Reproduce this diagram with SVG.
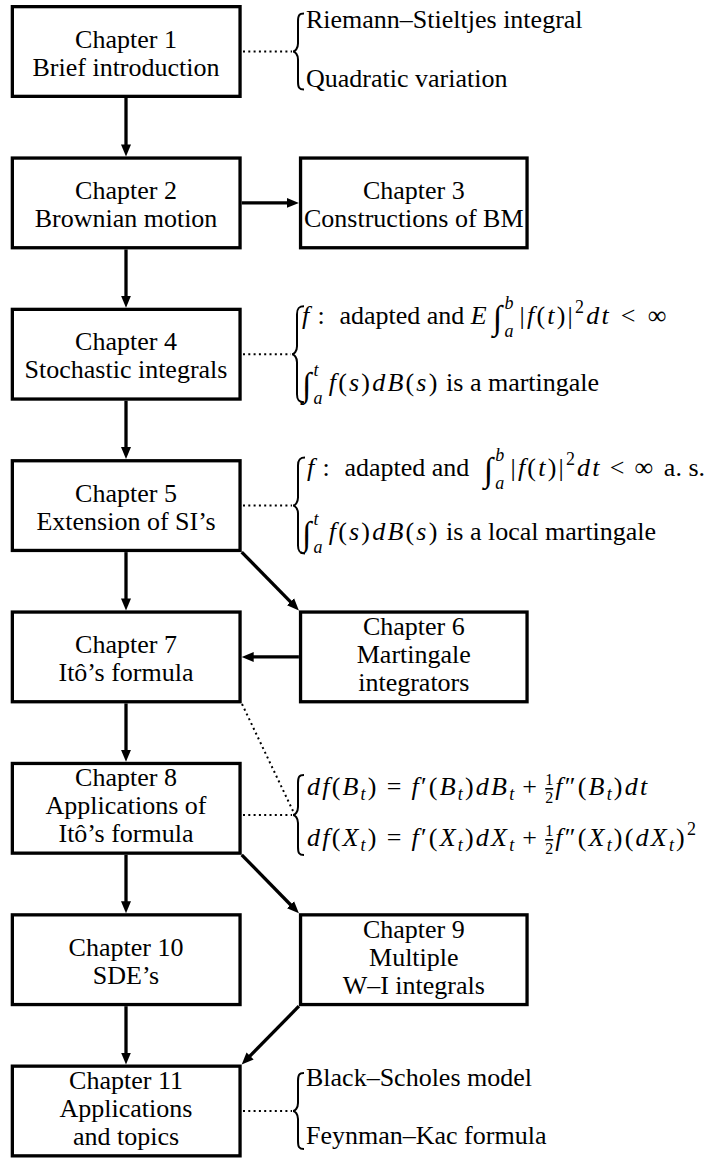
<svg xmlns="http://www.w3.org/2000/svg" width="717" height="1159" viewBox="0 0 717 1159">
<style>
.box{fill:#fff;stroke:#000;stroke-width:3.3}
.t{font-family:"Liberation Serif","Times New Roman",serif;font-size:26px;fill:#000}
.c{text-anchor:middle}
.m{letter-spacing:2.2px}
.w{letter-spacing:0}
.i{font-style:italic}
.s{font-size:18px}
.fr{font-size:16px;letter-spacing:0}
.ov{text-decoration:overline}
.int{font-size:34px}
.arr{stroke:#000;stroke-width:3.3;fill:none;marker-end:url(#ah)}
.dot{stroke:#000;stroke-width:2;fill:none;stroke-dasharray:2 3.3}
.br{stroke:#000;stroke-width:2;fill:none}
</style>
<defs>
<marker id="ah" markerUnits="userSpaceOnUse" markerWidth="13" markerHeight="11" viewBox="0 -5.5 13 11" refX="6" refY="0" orient="auto"><path d="M0,-5 L12,0 L0,5 z" fill="#000"/></marker>
</defs>
<rect width="717" height="1159" fill="#fff"/>

<g id="connectors">
<line class="arr" x1="126" y1="98" x2="126" y2="150.4"/>
<line class="arr" x1="126" y1="249.4" x2="126" y2="301.7"/>
<line class="arr" x1="126" y1="400.7" x2="126" y2="453.1"/>
<line class="arr" x1="126" y1="552.1" x2="126" y2="604.4"/>
<line class="arr" x1="126" y1="703.4" x2="126" y2="755.8"/>
<line class="arr" x1="126" y1="854.8" x2="126" y2="907.2"/>
<line class="arr" x1="126" y1="1006.2" x2="126" y2="1058.5"/>
<line class="arr" x1="241.7" y1="202.9" x2="292.9" y2="202.9"/>
<line class="arr" x1="298.9" y1="656.9" x2="247.7" y2="656.9"/>
<line class="arr" x1="241.7" y1="552.1" x2="294.7" y2="606.1"/>
<line class="arr" x1="241.7" y1="854.8" x2="294.7" y2="909"/>
<line class="arr" x1="298.9" y1="1006.2" x2="245.9" y2="1060.2"/>
<line class="dot" x1="243" y1="51.5" x2="292" y2="51.5"/>
<line class="dot" x1="243" y1="354.2" x2="291" y2="354.2"/>
<line class="dot" x1="243" y1="505.6" x2="292" y2="505.6"/>
<line class="dot" x1="243" y1="815" x2="292" y2="815"/>
<line class="dot" x1="243" y1="1111" x2="292" y2="1111"/>
<line class="dot" x1="242" y1="704" x2="293" y2="811"/>
</g>

<g id="ch1">
<rect class="box" x="12.35" y="6.65" width="227.7" height="89.7"/>
<text class="t c" x="126" y="47.5">Chapter 1</text>
<text class="t c" x="126" y="75.5">Brief introduction</text>
</g>
<g id="ch2">
<rect class="box" x="12.35" y="158.05" width="227.7" height="89.7"/>
<text class="t c" x="126" y="198.9">Chapter 2</text>
<text class="t c" x="126" y="226.9">Brownian motion</text>
</g>
<g id="ch3">
<rect class="box" x="300.55" y="158.05" width="226.5" height="89.7"/>
<text class="t c" x="413.8" y="198.9">Chapter 3</text>
<text class="t c" x="413.8" y="226.9">Constructions of BM</text>
</g>
<g id="ch4">
<rect class="box" x="12.35" y="309.35" width="227.7" height="89.7"/>
<text class="t c" x="126" y="350.2">Chapter 4</text>
<text class="t c" x="126" y="378.2">Stochastic integrals</text>
</g>
<g id="ch5">
<rect class="box" x="12.35" y="460.75" width="227.7" height="89.7"/>
<text class="t c" x="126" y="501.6">Chapter 5</text>
<text class="t c" x="126" y="529.6">Extension of SI’s</text>
</g>
<g id="ch7">
<rect class="box" x="12.35" y="612.05" width="227.7" height="89.7"/>
<text class="t c" x="126" y="652.9">Chapter 7</text>
<text class="t c" x="126" y="680.9">Itô’s formula</text>
</g>
<g id="ch6">
<rect class="box" x="300.55" y="612.05" width="226.5" height="89.7"/>
<text class="t c" x="413.8" y="634.9">Chapter 6</text>
<text class="t c" x="413.8" y="662.9">Martingale</text>
<text class="t c" x="413.8" y="690.9">integrators</text>
</g>
<g id="ch8">
<rect class="box" x="12.35" y="763.45" width="227.7" height="89.7"/>
<text class="t c" x="126" y="786.3">Chapter 8</text>
<text class="t c" x="126" y="814.3">Applications of</text>
<text class="t c" x="126" y="842.3">Itô’s formula</text>
</g>
<g id="ch10">
<rect class="box" x="12.35" y="914.85" width="227.7" height="89.7"/>
<text class="t c" x="126" y="955.7">Chapter 10</text>
<text class="t c" x="126" y="983.7">SDE’s</text>
</g>
<g id="ch9">
<rect class="box" x="300.55" y="914.85" width="226.5" height="89.7"/>
<text class="t c" x="413.8" y="937.7">Chapter 9</text>
<text class="t c" x="413.8" y="965.7">Multiple</text>
<text class="t c" x="413.8" y="993.7">W–I integrals</text>
</g>
<g id="ch11">
<rect class="box" x="12.35" y="1066.15" width="227.7" height="89.7"/>
<text class="t c" x="126" y="1089">Chapter 11</text>
<text class="t c" x="126" y="1117">Applications</text>
<text class="t c" x="126" y="1145">and topics</text>
</g>

<g id="note-ch1">
<path class="br" d="M304,13.5 C299,13.5 298,15.5 298,21.5 L298,43.5 C298,48.5 295,51.5 293,51.5 C295,51.5 298,54.5 298,59.5 L298,81.5 C298,87.5 299,89.5 304,89.5"/>
<text class="t" x="306" y="28">Riemann–Stieltjes integral</text>
<text class="t" x="306" y="87">Quadratic variation</text>
</g>

<g id="note-ch4">
<path class="br" d="M304,306.2 C299,306.2 297,308.2 297,314.2 L297,346.2 C297,351.2 294,354.2 292,354.2 C294,354.2 297,357.2 297,362.2 L297,394.2 C297,400.2 299,402.2 304,402.2"/>
<text class="t m" x="302" y="324"><tspan class="i">f</tspan><tspan dx="6">:</tspan><tspan class="w" dx="6"> adapted and </tspan><tspan class="i">E</tspan><tspan class="int" dx="4" dy="5">∫</tspan><tspan class="s i" dy="-20">b</tspan><tspan class="s i" dx="-11.2" dy="28">a</tspan><tspan dx="4" dy="-13">|</tspan><tspan class="i">f</tspan>(<tspan class="i">t</tspan>)|<tspan class="s" dy="-11">2</tspan><tspan class="i" dy="11">dt</tspan><tspan dx="10">&lt;</tspan><tspan dx="10">∞</tspan></text>
<text class="t m" x="302" y="391"><tspan class="int" dy="5">∫</tspan><tspan class="s i" dy="-20">t</tspan><tspan class="s i" dx="-7.2" dy="28">a</tspan><tspan class="i" dx="4" dy="-13">f</tspan>(<tspan class="i">s</tspan>)<tspan class="i">dB</tspan>(<tspan class="i">s</tspan>)<tspan class="w"> is a martingale</tspan></text>
</g>

<g id="note-ch5">
<path class="br" d="M305,457.6 C300,457.6 298,459.6 298,465.6 L298,497.6 C298,502.6 295,505.6 293,505.6 C295,505.6 298,508.6 298,513.6 L298,545.6 C298,551.6 300,553.6 305,553.6"/>
<text class="t m" x="307" y="476"><tspan class="i">f</tspan><tspan dx="6">:</tspan><tspan class="w" dx="6"> adapted and </tspan><tspan class="int" dx="8" dy="5">∫</tspan><tspan class="s i" dy="-20">b</tspan><tspan class="s i" dx="-11.2" dy="28">a</tspan><tspan dx="4" dy="-13">|</tspan><tspan class="i">f</tspan>(<tspan class="i">t</tspan>)|<tspan class="s" dy="-11">2</tspan><tspan class="i" dy="11">dt</tspan><tspan dx="8">&lt;</tspan><tspan dx="8">∞</tspan><tspan class="w" dx="2"> a. s.</tspan></text>
<text class="t m" x="302" y="540"><tspan class="int" dy="5">∫</tspan><tspan class="s i" dy="-20">t</tspan><tspan class="s i" dx="-7.2" dy="28">a</tspan><tspan class="i" dx="4" dy="-13">f</tspan>(<tspan class="i">s</tspan>)<tspan class="i">dB</tspan>(<tspan class="i">s</tspan>)<tspan class="w"> is a local martingale</tspan></text>
</g>

<g id="note-ch8">
<path class="br" d="M304,775 C299,775 298,777 298,783 L298,807 C298,812 295,815 293,815 C295,815 298,818 298,823 L298,847 C298,853 299,855 304,855"/>
<text class="t m" x="307" y="795"><tspan class="i">df</tspan>(<tspan class="i">B</tspan><tspan class="s i" dy="5">t</tspan><tspan dy="-5">)</tspan><tspan dx="8">=</tspan><tspan class="i" dx="8">f</tspan>′(<tspan class="i">B</tspan><tspan class="s i" dy="5">t</tspan><tspan dy="-5">)</tspan><tspan class="i">dB</tspan><tspan class="s i" dy="5">t</tspan><tspan dx="6" dy="-5">+</tspan><tspan class="fr" dx="6" dy="-10">1</tspan><tspan class="fr ov" dx="-8" dy="18">2</tspan><tspan class="i" dx="2" dy="-8">f</tspan>″(<tspan class="i">B</tspan><tspan class="s i" dy="5">t</tspan><tspan dy="-5">)</tspan><tspan class="i">dt</tspan></text>
<text class="t m" x="307" y="846"><tspan class="i">df</tspan>(<tspan class="i">X</tspan><tspan class="s i" dy="5">t</tspan><tspan dy="-5">)</tspan><tspan dx="8">=</tspan><tspan class="i" dx="8">f</tspan>′(<tspan class="i">X</tspan><tspan class="s i" dy="5">t</tspan><tspan dy="-5">)</tspan><tspan class="i">dX</tspan><tspan class="s i" dy="5">t</tspan><tspan dx="6" dy="-5">+</tspan><tspan class="fr" dx="6" dy="-10">1</tspan><tspan class="fr ov" dx="-8" dy="18">2</tspan><tspan class="i" dx="2" dy="-8">f</tspan>″(<tspan class="i">X</tspan><tspan class="s i" dy="5">t</tspan><tspan dy="-5">)(</tspan><tspan class="i">dX</tspan><tspan class="s i" dy="5">t</tspan><tspan dy="-5">)</tspan><tspan class="s" dy="-11">2</tspan></text>
</g>

<g id="note-ch11">
<path class="br" d="M304,1073 C299,1073 298,1075 298,1081 L298,1103 C298,1108 295,1111 293,1111 C295,1111 298,1114 298,1119 L298,1141 C298,1147 299,1149 304,1149"/>
<text class="t" x="306" y="1086">Black–Scholes model</text>
<text class="t" x="306" y="1144">Feynman–Kac formula</text>
</g>
</svg>
